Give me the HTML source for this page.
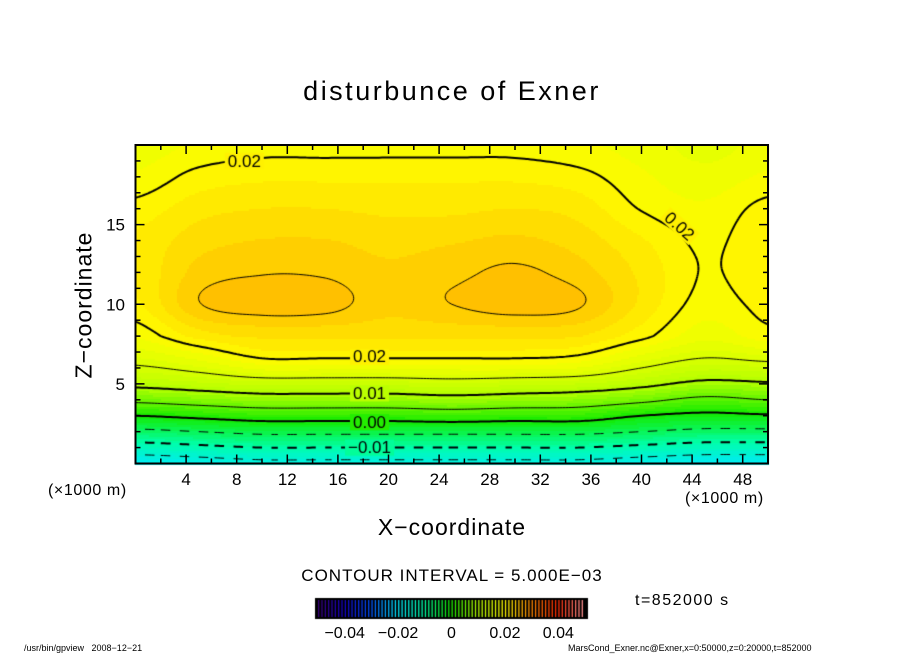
<!DOCTYPE html>
<html><head><meta charset="utf-8"><style>
body{margin:0;background:#fff;width:904px;height:654px;overflow:hidden;position:relative;font-family:"Liberation Sans",sans-serif}
.t{position:absolute;white-space:nowrap;color:#000}
</style></head><body>
<div class="t" style="left:0;width:904px;text-align:center;top:76px;font-size:27px;letter-spacing:2.5px">disturbunce of Exner</div>
<div class="t" style="left:84px;top:305px;font-size:23px;letter-spacing:1px;transform:translate(-50%,-50%) rotate(-90deg)">Z−coordinate</div>
<div class="t" style="left:0;width:904px;text-align:center;top:514px;font-size:23px;letter-spacing:1px">X−coordinate</div>
<div class="t" style="left:48px;top:482px;font-size:16px;letter-spacing:0.6px">(×1000 m)</div>
<div class="t" style="left:685px;top:490px;font-size:16px;letter-spacing:0.6px">(×1000 m)</div>
<div class="t" style="left:0;width:904px;text-align:center;top:566px;font-size:17px;letter-spacing:1px">CONTOUR INTERVAL = 5.000E−03</div>
<div class="t" style="left:635px;top:592px;font-size:16px;letter-spacing:1.5px">t=852000 s</div>
<div class="t" style="left:24px;top:643px;font-size:9px">/usr/bin/gpview&nbsp;&nbsp;&nbsp;2008−12−21</div>
<div class="t" style="left:568px;top:643px;font-size:9px">MarsCond_Exner.nc@Exner,x=0:50000,z=0:20000,t=852000</div>
<canvas id="cv" width="904" height="654" style="position:absolute;left:0;top:0"></canvas>
<svg id="sv" width="904" height="654" style="position:absolute;left:0;top:0"></svg>
<script>
const xs=[0,5,10,15,20,25,30,35,40,45,50];
const zs=[0,1,2,3,4,5,6,7,8,10,12,14,16,18,20];
const col0=[-0.018,-0.012,-0.006,0.000,0.006,0.011,0.0145,0.017,0.019,0.021,0.0215,0.0215,0.0205,0.019,0.018];
const col5=[-0.017,-0.011,-0.005,0.001,0.007,0.012,0.016,0.019,0.0218,0.0249,0.0242,0.0232,0.022,0.0205,0.019];
const col10=[-0.016,-0.010,-0.004,0.002,0.008,0.013,0.018,0.021,0.0228,0.0258,0.0249,0.0238,0.0225,0.021,0.0195];
const col15=[-0.016,-0.010,-0.004,0.002,0.008,0.013,0.018,0.021,0.0228,0.0256,0.0248,0.0238,0.0225,0.021,0.0195];
const col20=[-0.016,-0.010,-0.004,0.002,0.008,0.013,0.018,0.021,0.0228,0.0242,0.024,0.0233,0.0222,0.021,0.0195];
const col25=[-0.016,-0.010,-0.004,0.0025,0.0085,0.0135,0.018,0.021,0.0228,0.025,0.0246,0.0236,0.0222,0.021,0.0195];
const col30=[-0.016,-0.010,-0.004,0.002,0.008,0.013,0.018,0.021,0.0228,0.0258,0.0253,0.024,0.0225,0.021,0.0195];
const col35=[-0.016,-0.010,-0.004,0.002,0.0075,0.0125,0.0175,0.0205,0.0226,0.0252,0.0243,0.0232,0.022,0.0205,0.019];
const col40=[-0.017,-0.011,-0.005,0.000,0.006,0.011,0.015,0.018,0.0205,0.0222,0.0222,0.0214,0.0199,0.019,0.0182];
const col45=[-0.018,-0.012,-0.006,-0.001,0.004,0.009,0.013,0.016,0.018,0.0194,0.0199,0.0197,0.019,0.018,0.017];
const col50=[-0.018,-0.012,-0.006,-0.0005,0.005,0.0095,0.0135,0.017,0.0195,0.0205,0.021,0.021,0.0205,0.019,0.018];
const cols=[col0,col5,col10,col15,col20,col25,col30,col35,col40,col45,col50];
const xTicks=[4,8,12,16,20,24,28,32,36,40,44,48];
const zTicks=[5,10,15];
const cbTicks=[-0.04,-0.02,0,0.02,0.04];
const cbLabels=["−0.04","−0.02","0","0.02","0.04"];
const labels=[[0.02,8.6,19.0,"0.02",0],[0.02,43,14.9,"0.02",42],[0.02,18.5,6.7,"0.02",0],[0.01,18.5,4.4,"0.01",0],[0.00,18.5,2.6,"0.00",0],[-0.01,18.5,1.0,"−0.01",0]];

const X0=135.5,X1=768,Y0=463.5,Y1=145;
const sx=x=>X0+(x/50)*(X1-X0), sz=z=>Y0-(z/20)*(Y0-Y1);
function idx(arr,v){for(let i=0;i<arr.length-1;i++){if(v<=arr[i+1])return i+(v-arr[i])/(arr[i+1]-arr[i]);}return arr.length-1;}
function cr(p,t){const n=p.length;const i=Math.min(Math.max(Math.floor(t),0),n-2);const f=t-i;
 const p0=p[Math.max(i-1,0)],p1=p[i],p2=p[i+1],p3=p[Math.min(i+2,n-1)];
 return 0.5*((2*p1)+(-p0+p2)*f+(2*p0-5*p1+4*p2-p3)*f*f+(-p0+3*p1-3*p2+p3)*f*f*f);}
function field(x,z){const tz=idx(zs,z),tx=idx(xs,x);const v=cols.map(c=>cr(c,tz));return cr(v,tx);}
const stops=[[-0.05,[60,0,120]],[-0.04,[20,0,200]],[-0.03,[0,80,255]],[-0.02,[0,230,255]],[-0.01,[0,255,170]],[0,[20,235,0]],[0.01,[180,255,0]],[0.0175,[235,255,0]],[0.02,[255,250,0]],[0.0225,[255,228,0]],[0.025,[255,200,0]],[0.0275,[255,165,0]],[0.04,[255,40,0]],[0.05,[255,150,150]]];
function cmap(v){if(v<=stops[0][0])return stops[0][1];for(let i=0;i<stops.length-1;i++){const a=stops[i],b=stops[i+1];if(v<=b[0]){const f=(v-a[0])/(b[0]-a[0]);return a[1].map((c,k)=>Math.round(c+(b[1][k]-c)*f));}}return stops[stops.length-1][1];}
const cv=document.getElementById('cv'),ctx=cv.getContext('2d');
for(let px=Math.floor(X0);px<X1;px+=2){for(let py=Math.floor(Y1);py<Y0;py+=2){
 const x=(px+1-X0)/(X1-X0)*50,z=(Y0-py-1)/(Y0-Y1)*20;let v=field(x,z);v=Math.floor(v/0.00125)*0.00125+0.0006;
 const c=cmap(v);ctx.fillStyle=`rgb(${c[0]},${c[1]},${c[2]})`;ctx.fillRect(px,py,2,2);}}
const NX=200,NZ=160,G=[];for(let j=0;j<=NZ;j++){G.push([]);for(let i=0;i<=NX;i++)G[j].push(field(i*50/NX,j*20/NZ));}
ctx.save();ctx.beginPath();ctx.rect(X0,Y1,X1-X0,Y0-Y1);ctx.clip();
function lerp(a,b,va,vb,L){return a+(b-a)*(L-va)/(vb-va);}
for(let k=-4;k<=6;k++){const L=k*0.005;const thick=(k%2===0);
 ctx.beginPath();ctx.lineWidth=thick?2:1;ctx.strokeStyle='#000';
 for(let j=0;j<NZ;j++)for(let i=0;i<NX;i++){
  const v=[G[j][i],G[j][i+1],G[j+1][i+1],G[j+1][i]];
  const P=[[i,j],[i+1,j],[i+1,j+1],[i,j+1]];const pts=[];
  for(let e=0;e<4;e++){const a=v[e],b=v[(e+1)%4];if((a<L)!==(b<L)){const pa=P[e],pb=P[(e+1)%4];pts.push([lerp(pa[0],pb[0],a,b,L),lerp(pa[1],pb[1],a,b,L)]);}}
  for(let p=0;p+1<pts.length;p+=2){
   const ax=sx(pts[p][0]*50/NX),az=sz(pts[p][1]*20/NZ),bx=sx(pts[p+1][0]*50/NX),bz=sz(pts[p+1][1]*20/NZ);
   if(L<0&&Math.floor((ax+bx)/2/9)%2===1)continue;
   ctx.moveTo(ax,az);ctx.lineTo(bx,bz);}
 }
 ctx.stroke();}
labels.forEach(l=>{const x=sx(l[1]),y=sz(l[2]);ctx.save();ctx.translate(x,y);ctx.rotate(l[4]*Math.PI/180);
 ctx.font='17px "Liberation Sans", sans-serif';const w=ctx.measureText(l[3]).width;
 const c=cmap(l[0]+0.001);ctx.fillStyle=`rgb(${c[0]},${c[1]},${c[2]})`;ctx.fillRect(-w/2-3,-8,w+6,16);
 ctx.fillStyle='#000';ctx.textAlign='center';ctx.textBaseline='middle';ctx.fillText(l[3],0,1);ctx.restore();});
ctx.restore();
const CB0=315,CB1=588,CBY=598,CBH=21;
ctx.fillStyle='#000';ctx.fillRect(CB0,CBY,CB1-CB0,CBH);
for(let i=0;i<80;i++){const v=-0.05+(i+0.5)*0.1/80;const c=cmap(v);ctx.fillStyle=`rgb(${c[0]},${c[1]},${c[2]})`;ctx.fillRect(CB0+3+i*(CB1-CB0-6)/80,CBY+2,1.3,CBH-4);}
const svg=document.getElementById('sv');const NS='http://www.w3.org/2000/svg';
function mk(tag,at,name){const e=document.createElementNS(NS,tag);for(const k in at)e.setAttribute(k,at[k]);
 
 
 svg.appendChild(e);return e;}
mk('rect',{x:X0,y:Y1,width:X1-X0,height:Y0-Y1,fill:'none',stroke:'#000','stroke-width':2},'plot-frame');
for(let t=2;t<50;t+=2){const L=(t%4===0)?9:5;const x=sx(t);
 mk('line',{x1:x,x2:x,y1:Y0,y2:Y0-L,stroke:'#000','stroke-width':1.5},'x-tick');
 mk('line',{x1:x,x2:x,y1:Y1,y2:Y1+L,stroke:'#000','stroke-width':1.5},'x-tick-top');}
for(let t=1;t<20;t++){const L=(t%5===0)?9:5;const y=sz(t);
 mk('line',{x1:X0,x2:X0+L,y1:y,y2:y,stroke:'#000','stroke-width':1.5},'z-tick');
 mk('line',{x1:X1,x2:X1-L,y1:y,y2:y,stroke:'#000','stroke-width':1.5},'z-tick-right');}
xTicks.forEach(t=>{const e=mk('text',{x:sx(t),y:485,'text-anchor':'middle','font-size':17,'font-family':'Liberation Sans, sans-serif'},'x-tick-label');e.textContent=t;});
zTicks.forEach(t=>{const e=mk('text',{x:125,y:sz(t)+6,'text-anchor':'end','font-size':17,'font-family':'Liberation Sans, sans-serif'},'z-tick-label');e.textContent=t;});
cbTicks.forEach((t,i)=>{const x=CB0+3+(t+0.05)/0.1*(CB1-CB0-6);const e=mk('text',{x:x,y:638,'text-anchor':'middle','font-size':16,'font-family':'Liberation Sans, sans-serif'},'colorbar-label');e.textContent=cbLabels[i];});
</script>
</body></html>
